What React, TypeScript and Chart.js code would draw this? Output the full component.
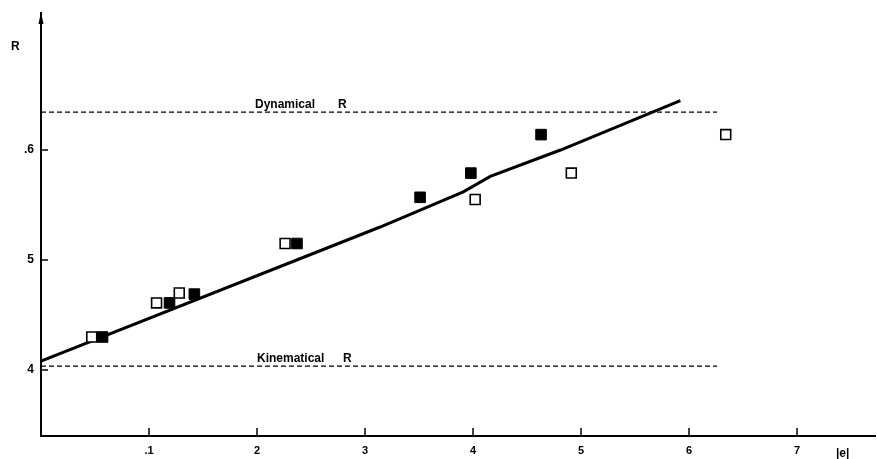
import React, { useEffect, useRef } from "react";
import { Chart, registerables } from "chart.js";

Chart.register(...registerables);

// ---- data ----
const fitLineX = [0, 0.314, 0.391, 0.416, 0.481, 0.592];
const fitLineY = [0.408, 0.53, 0.562, 0.576, 0.6, 0.645];

const openX = [0.047, 0.107, 0.128, 0.226, 0.402, 0.491, 0.634];
const openY = [0.43, 0.461, 0.47, 0.515, 0.555, 0.579, 0.614];

const filledX = [0.057, 0.119, 0.142, 0.237, 0.351, 0.398, 0.463];
const filledY = [0.43, 0.461, 0.469, 0.515, 0.557, 0.579, 0.614];

const dynamicalR = 0.6345;
const kinematicalR = 0.4036;
const refLineX = [0, 0.626];

const xTickValues = [0.1, 0.2, 0.3, 0.4, 0.5, 0.6, 0.7];
const xTickLabels = [".1", "2", "3", "4", "5", "6", "7"];
const yTickValues = [0.4, 0.5, 0.6];
const yTickLabels = ["4", "5", ".6"];

const xMin = 0;
const xMax = 0.7722;
const yMin = 0.34;
const yMax = 0.7182;

const FONT = "'Liberation Sans', Arial, sans-serif";

function labelFor(values: number[], labels: string[], v: number) {
  const i = values.findIndex((t) => Math.abs(t - v) < 1e-6);
  return i >= 0 ? labels[i] : "";
}

const decorPlugin = {
  id: "decor",
  afterDraw(chart: any) {
    const { ctx, chartArea, scales } = chart;
    const xs = scales.x;
    const ys = scales.y;
    ctx.save();
    ctx.strokeStyle = "#000";
    ctx.lineWidth = 1.5;
    // inward tick marks
    xTickValues.forEach((v) => {
      const px = xs.getPixelForValue(v);
      ctx.beginPath();
      ctx.moveTo(px, chartArea.bottom);
      ctx.lineTo(px, chartArea.bottom - 8);
      ctx.stroke();
    });
    yTickValues.forEach((v) => {
      const py = ys.getPixelForValue(v);
      ctx.beginPath();
      ctx.moveTo(chartArea.left, py);
      ctx.lineTo(chartArea.left + 7, py);
      ctx.stroke();
    });
    // small arrow head on y axis
    ctx.fillStyle = "#000";
    ctx.beginPath();
    ctx.moveTo(chartArea.left, chartArea.top - 8);
    ctx.lineTo(chartArea.left - 2.5, chartArea.top + 4);
    ctx.lineTo(chartArea.left + 2.5, chartArea.top + 4);
    ctx.closePath();
    ctx.fill();
    ctx.lineWidth = 2;
    ctx.beginPath();
    ctx.moveTo(chartArea.left, chartArea.top - 8);
    ctx.lineTo(chartArea.left, chartArea.top + 2);
    ctx.stroke();

    // texts
    ctx.font = `bold 12px ${FONT}`;
    ctx.textBaseline = "alphabetic";
    ctx.textAlign = "left";
    ctx.fillText("R", 11, 50);
    ctx.fillText("|e|", 836, 457);

    const dynY = ys.getPixelForValue(dynamicalR);
    ctx.fillText("Dynamical", 255, dynY - 4);
    ctx.fillText("R", 338, dynY - 4);

    const kinY = ys.getPixelForValue(kinematicalR);
    ctx.fillText("Kinematical", 257, kinY - 4);
    ctx.fillText("R", 343, kinY - 4);
    ctx.restore();
  },
};

export default function App() {
  const canvasRef = useRef<HTMLCanvasElement | null>(null);

  useEffect(() => {
    const canvas = canvasRef.current;
    if (!canvas) return;
    const chart = new Chart(canvas, {
      type: "scatter",
      data: {
        datasets: [
          {
            label: "filled",
            data: filledX.map((x, i) => ({ x, y: filledY[i] })),
            pointStyle: "rect",
            pointRadius: 7.5,
            backgroundColor: "#000",
            borderColor: "#000",
            borderWidth: 1,
            order: 0,
          },
          {
            label: "open",
            data: openX.map((x, i) => ({ x, y: openY[i] })),
            pointStyle: "rect",
            pointRadius: 7,
            backgroundColor: "#fff",
            borderColor: "#000",
            borderWidth: 1.6,
            order: 0,
          },
          {
            type: "line",
            label: "fit",
            data: fitLineX.map((x, i) => ({ x, y: fitLineY[i] })),
            borderColor: "#000",
            borderWidth: 3,
            pointRadius: 0,
            showLine: true,
            fill: false,
            tension: 0,
            order: 1,
          },
          {
            type: "line",
            label: "Dynamical R",
            data: refLineX.map((x) => ({ x, y: dynamicalR })),
            borderColor: "#000",
            borderWidth: 1.2,
            borderDash: [5, 3],
            pointRadius: 0,
            showLine: true,
            fill: false,
            order: 2,
          },
          {
            type: "line",
            label: "Kinematical R",
            data: refLineX.map((x) => ({ x, y: kinematicalR })),
            borderColor: "#000",
            borderWidth: 1.2,
            borderDash: [5, 3],
            pointRadius: 0,
            showLine: true,
            fill: false,
            order: 2,
          },
        ],
      } as any,
      options: {
        animation: false,
        responsive: false,
        layout: { autoPadding: false, padding: { top: 20, right: 2, left: 0, bottom: 0 } },
        plugins: {
          legend: { display: false },
          tooltip: { enabled: false },
        },
        scales: {
          x: {
            type: "linear",
            min: xMin,
            max: xMax,
            grid: { display: false, drawTicks: false },
            border: { display: true, color: "#000", width: 2 },
            afterBuildTicks: (s: any) => {
              s.ticks = xTickValues.map((v) => ({ value: v }));
            },
            afterFit: (s: any) => {
              s.height = 23;
              s.paddingLeft = 0;
              s.paddingRight = 0;
            },
            ticks: {
              padding: 8,
              color: "#000",
              font: { family: FONT, size: 11, weight: "bold" },
              maxRotation: 0,
              autoSkip: false,
              callback: (v: any) => labelFor(xTickValues, xTickLabels, Number(v)),
            },
          },
          y: {
            type: "linear",
            min: yMin,
            max: yMax,
            grid: { display: false, drawTicks: false },
            border: { display: true, color: "#000", width: 2 },
            afterBuildTicks: (s: any) => {
              s.ticks = yTickValues.map((v) => ({ value: v }));
            },
            afterFit: (s: any) => {
              s.width = 41;
              s.paddingTop = 0;
              s.paddingBottom = 0;
            },
            ticks: {
              padding: 7,
              color: "#000",
              font: { family: FONT, size: 12, weight: "bold" },
              autoSkip: false,
              callback: (v: any) => labelFor(yTickValues, yTickLabels, Number(v)),
            },
          },
        },
      } as any,
      plugins: [decorPlugin],
    });
    return () => chart.destroy();
  }, []);

  return (
    <div style={{ position: "fixed", left: 0, top: 0, width: 877, height: 459, background: "#fff" }}>
      <canvas ref={canvasRef} width={877} height={459} style={{ display: "block" }} />
    </div>
  );
}
